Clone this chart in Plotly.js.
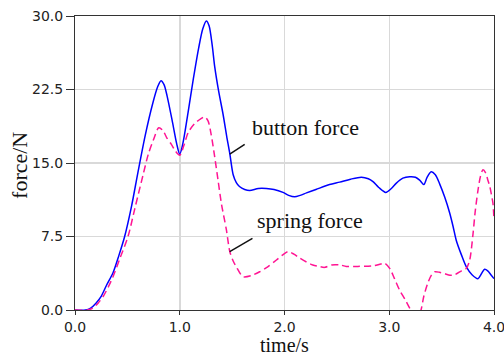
<!DOCTYPE html>
<html>
<head>
<meta charset="utf-8">
<script src="https://cdn.plot.ly/plotly-3.0.1.min.js"></script>
<style>html,body{margin:0;padding:0;background:#fff;}#chart{width:504px;height:357px;}</style>
</head>
<body>
<div id="chart"></div>
<script>
// time (s) and button force (N)
const buttonTime = [0,0.1,0.15,0.2,0.25,0.3,0.363,0.42,0.474,0.54,0.6,0.67,0.74,0.79,0.821,0.85,0.88,0.93,0.97,1.0,1.03,1.08,1.13,1.18,1.22,1.254,1.28,1.31,1.334,1.37,1.413,1.45,1.477,1.51,1.54,1.57,1.62,1.668,1.75,1.827,1.9,1.986,2.04,2.097,2.15,2.21,2.3,2.43,2.527,2.63,2.734,2.8,2.845,2.9,2.966,3.02,3.068,3.13,3.195,3.25,3.29,3.33,3.36,3.40,3.44,3.48,3.53,3.577,3.61,3.64,3.69,3.736,3.79,3.847,3.88,3.91,3.94,3.97,4.0];
const buttonForce = [0,0,0.2,0.7,1.4,2.5,3.8,5.6,7.5,10.6,14.0,17.8,21.0,22.8,23.4,23.0,21.8,19.2,17.0,15.9,17.0,20.2,23.6,26.7,28.7,29.5,29.0,27.0,24.8,22.4,20.0,17.6,16.0,13.8,13.0,12.6,12.3,12.2,12.4,12.4,12.3,12.0,11.7,11.55,11.7,11.95,12.3,12.8,13.05,13.35,13.55,13.4,13.1,12.5,12.0,12.4,12.95,13.45,13.6,13.55,13.25,12.8,13.5,14.1,13.8,12.9,11.5,9.9,8.5,7.1,5.6,4.4,3.6,3.2,3.7,4.15,4.0,3.6,3.2];
// time (s) and spring force (N)
const springTime = [0,0.12,0.17,0.22,0.27,0.32,0.363,0.43,0.506,0.57,0.65,0.70,0.75,0.80,0.84,0.875,0.92,0.96,1.0,1.04,1.08,1.14,1.2,1.238,1.27,1.30,1.334,1.365,1.397,1.445,1.477,1.51,1.54,1.604,1.68,1.763,1.84,1.923,1.98,2.034,2.09,2.145,2.21,2.27,2.33,2.384,2.45,2.527,2.59,2.7,2.845,2.92,2.957,3.004,3.05,3.1,3.15,3.195,3.23,3.27,3.3,3.33,3.37,3.40,3.434,3.48,3.53,3.58,3.625,3.69,3.736,3.768,3.80,3.82,3.847,3.87,3.895,3.92,3.94,3.96,3.98,3.99,4.0];
const springForce = [0,0,0.2,0.7,1.4,2.4,3.4,5.3,7.5,10.3,13.8,15.9,17.4,18.6,18.3,17.6,16.9,16.2,15.8,16.8,18.1,19.0,19.5,19.7,19.3,17.9,15.6,13.3,10.9,8.2,6.0,5.0,4.4,3.4,3.5,3.9,4.4,5.1,5.6,5.95,5.7,5.3,4.9,4.6,4.45,4.35,4.6,4.6,4.45,4.45,4.5,4.7,4.76,4.25,3.2,2.0,1.1,0.2,-0.4,-0.6,-0.1,1.4,2.8,3.5,3.9,3.85,3.7,3.55,3.6,4.0,4.25,5.1,7.8,10.0,12.2,13.6,14.3,14.0,13.3,12.6,11.5,10.9,9.2];
const xTicks = [0,1,2,3,4];
const yTicks = [0,7.5,15,22.5,30];
const labels = ["button force", "spring force"];
const axisTitles = ["time/s", "force/N"];

const serif = "Liberation Serif, Times New Roman, serif";
const titleFont = {family: serif, size: 22, color: "#111"};
const traces = [
  {x: buttonTime, y: buttonForce, mode: "lines", name: labels[0],
   line: {color: "#0000ff", width: 1.5, shape: "spline", smoothing: 0.8}},
  {x: springTime, y: springForce, mode: "lines", name: labels[1],
   line: {color: "#ff1493", width: 1.5, dash: "7px,4px", shape: "spline", smoothing: 0.8}}
];
const layout = {
  width: 504, height: 357,
  margin: {l: 75, r: 10, t: 16, b: 47},
  paper_bgcolor: "#fff", plot_bgcolor: "#fff",
  showlegend: false,
  font: {family: "DejaVu Sans, sans-serif", size: 14, color: "#222"},
  xaxis: {
    range: [0, 4], tickvals: xTicks, tickformat: ".1f", ticklabeloverflow: "allow",
    showgrid: true, gridcolor: "#d9d9d9", gridwidth: 1.5,
    zeroline: false, showline: true, linecolor: "#333", linewidth: 1, mirror: true,
    ticks: "outside", ticklen: 4, tickcolor: "#333"
  },
  yaxis: {
    range: [0, 30], tickvals: yTicks, tickformat: ".1f",
    showgrid: true, gridcolor: "#d9d9d9", gridwidth: 1.5,
    zeroline: false, showline: true, linecolor: "#333", linewidth: 1, mirror: true,
    ticks: "outside", ticklen: 8, tickcolor: "#333"
  },
  shapes: [
    {type: "line", xref: "x", yref: "y", x0: 1.477, y0: 15.9, x1: 1.62, y1: 16.9, line: {color: "#111", width: 1.5}},
    {type: "line", xref: "x", yref: "y", x0: 1.477, y0: 5.95, x1: 1.694, y1: 7.3, line: {color: "#111", width: 1.5}}
  ],
  annotations: [
    {x: 1.669, y: 18.6, xref: "x", yref: "y", text: labels[0], showarrow: false, xanchor: "left", yanchor: "middle",
     font: titleFont},
    {x: 1.716, y: 9.1, xref: "x", yref: "y", text: labels[1], showarrow: false, xanchor: "left", yanchor: "middle",
     font: titleFont},
    {x: 0.5, y: 0, xref: "paper", yref: "paper", text: axisTitles[0], showarrow: false, xanchor: "center", yanchor: "middle",
     yshift: -35, font: {family: serif, size: 20, color: "#111"}},
    {x: 0, y: 0.49, xref: "paper", yref: "paper", text: axisTitles[1], showarrow: false, textangle: -90,
     xanchor: "center", yanchor: "middle", xshift: -55, font: titleFont}
  ]
};
Plotly.newPlot("chart", traces, layout, {staticPlot: true, displayModeBar: false});
</script>
</body>
</html>
